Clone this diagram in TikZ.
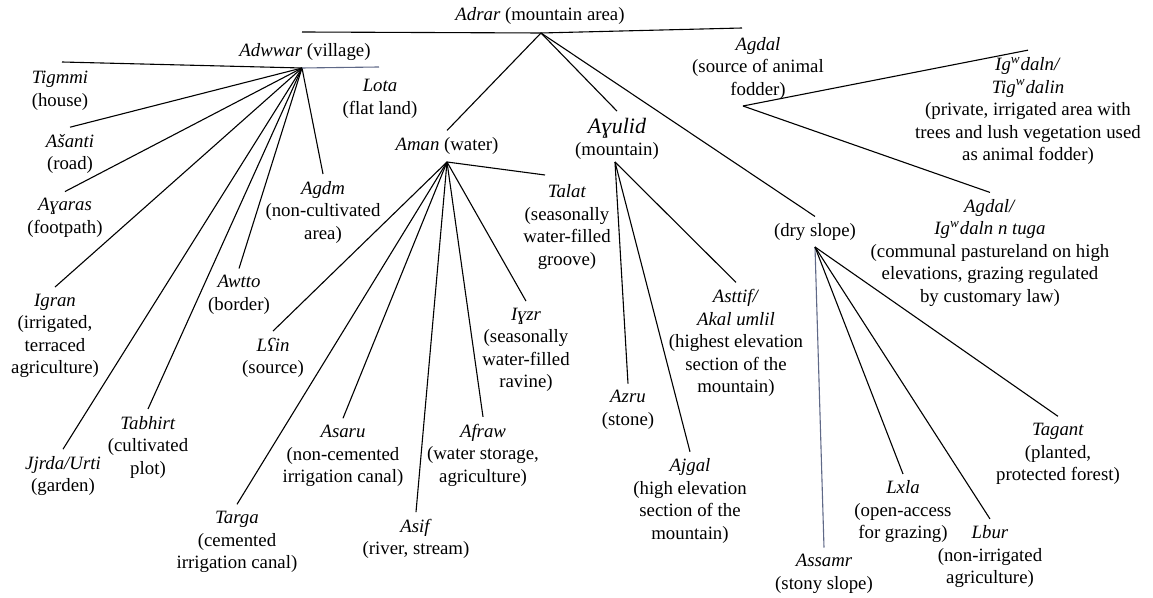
\documentclass[tikz,border=0pt]{standalone}
\usepackage{fontspec}
\setmainfont{Liberation Serif}
\definecolor{slate}{RGB}{95,105,135}
\begin{document}
\begin{tikzpicture}[x=0.5pt,y=-0.5pt,
	term/.style={align=center,inner sep=1.5pt,outer sep=2pt,font=\fontsize{9.4}{11.25}\selectfont},
	branch/.style={line width=0.55pt},
	faint/.style={branch,draw=slate}]
	\useasboundingbox (0,0) rectangle (1153,598);
	%\draw[step=50,gray!20] (0,0) grid (1150,600); %Hilfsgitter
	
	% top level
	\node[term] (adrar) at (540,16) {\textit{Adrar} (mountain area)};
	\coordinate (adrarhub) at (541,33); \coordinate (adrarW) at (302,32); \coordinate (adrarE) at (742,28);
	\node[term] (adwwar) at (305,52) {\textit{Adwwar} (village)}; \coordinate (adwwarhub) at (302,68);
	\node[term] (aman) at (447,146) {\textit{Aman} (water)}; \coordinate (amanhub) at (447,162);
	\node[term] (agulid) at (617,139) {{\fontsize{11}{12}\selectfont\textit{Aɣulid}}\\(mountain)}; \coordinate (agulidhub) at (615,162);
	\node[term] (dry) at (815,232) {(dry slope)}; \coordinate (dryhub) at (815,247);
	\node[term] (agdal) at (758,68) {\textit{Agdal}\\(source of animal\\fodder)}; \coordinate (agdalhub) at (743,106);
	
	% village
	\coordinate (tigmmiend) at (62,62);
	\node[term] (tigmmi) at (60,91) {\textit{Tigmmi}\\(house)};
	\node[term] (asanti) at (70,154) {\textit{Ašanti}\\(road)};
	\node[term] (agaras) at (65,218) {\textit{Aɣaras}\\(footpath)};
	\node[term] (igran) at (55,336) {\textit{Igran}\\(irrigated,\\terraced\\agriculture)};
	\node[term] (jjrda) at (63,476) {\textit{Jjrda/Urti}\\(garden)};
	\node[term] (tabhirt) at (148,447) {\textit{Tabhirt}\\(cultivated\\plot)};
	\node[term] (awtto) at (239,295) {\textit{Awtto}\\(border)};
	\node[term] (agdm) at (323,212) {\textit{Agdm}\\(non-cultivated\\area)};
	\coordinate (lotaend) at (379,67);
	\node[term] (lota) at (380,99) {\textit{Lota}\\(flat land)};
	
	% water
	\node[term] (lain) at (273,358) {\textit{Lʕin}\\(source)};
	\node[term] (targa) at (237,542) {\textit{Targa}\\(cemented\\irrigation canal)};
	\node[term] (asaru) at (343,456) {\textit{Asaru}\\(non-cemented\\irrigation canal)};
	\node[term] (asif) at (416,539) {\textit{Asif}\\(river, stream)};
	\node[term] (afraw) at (483,455) {\textit{Afraw}\\(water storage,\\agriculture)};
	\node[term] (igzr) at (526,350) {\textit{Iɣzr}\\(seasonally\\water-filled\\ravine)};
	\coordinate (talatend) at (545,175);
	\node[term] (talat) at (567,227) {\textit{Talat}\\(seasonally\\water-filled\\groove)};
	
	% mountain
	\node[term] (azru) at (628,410) {\textit{Azru}\\(stone)};
	\node[term] (ajgal) at (690,501) {\textit{Ajgal}\\(high elevation\\section of the\\mountain)};
	\node[term] (asttif) at (736,343) {\textit{Asttif/}\\\textit{Akal umlil}\\(highest elevation\\section of the\\mountain)};
	
	% dry slope
	\node[term] (assamr) at (824,574) {\textit{Assamr}\\(stony slope)};
	\node[term] (lxla) at (903,512) {\textit{Lxla}\\(open-access\\for grazing)};
	\node[term] (lbur) at (990,557) {\textit{Lbur}\\(non-irrigated\\agriculture)};
	\node[term] (tagant) at (1058,454) {\textit{Tagant}\\(planted,\\protected forest)};
	
	% fodder
	\node[term] (igwdaln) at (1028,111) {\textit{Ig\textsuperscript{w}daln/}\\\textit{Tig\textsuperscript{w}dalin}\\(private, irrigated area with\\trees and lush vegetation used\\as animal fodder)};
	\node[term] (tuga) at (990,253) {\textit{Agdal/}\\\textit{Ig\textsuperscript{w}daln n tuga}\\(communal pastureland on high\\elevations, grazing regulated\\by customary law)};
	
	\draw[branch] (adrarW) -- (adrarhub) -- (adrarE);
	\foreach \x in {aman,agulid,dry} \draw[branch] (adrarhub) -- (\x.north);
	\draw[branch] (adwwarhub) -- (tigmmiend);
	\foreach \x in {asanti,agaras,igran,jjrda,tabhirt,awtto,agdm} \draw[branch] (adwwarhub) -- (\x.north);
	\draw[faint] (adwwarhub) -- (lotaend);
	\foreach \x in {lain,targa,asaru,asif,afraw,igzr} \draw[branch] (amanhub) -- (\x.north);
	\draw[branch] (amanhub) -- (talatend);
	\foreach \x in {azru,ajgal,asttif} \draw[branch] (agulidhub) -- (\x.north);
	\draw[faint] (dryhub) -- (assamr.north);
	\foreach \x in {lxla,lbur,tagant} \draw[branch] (dryhub) -- (\x.north);
	\foreach \x in {igwdaln,tuga} \draw[branch] (agdalhub) -- (\x.north);
\end{tikzpicture}
\end{document}
